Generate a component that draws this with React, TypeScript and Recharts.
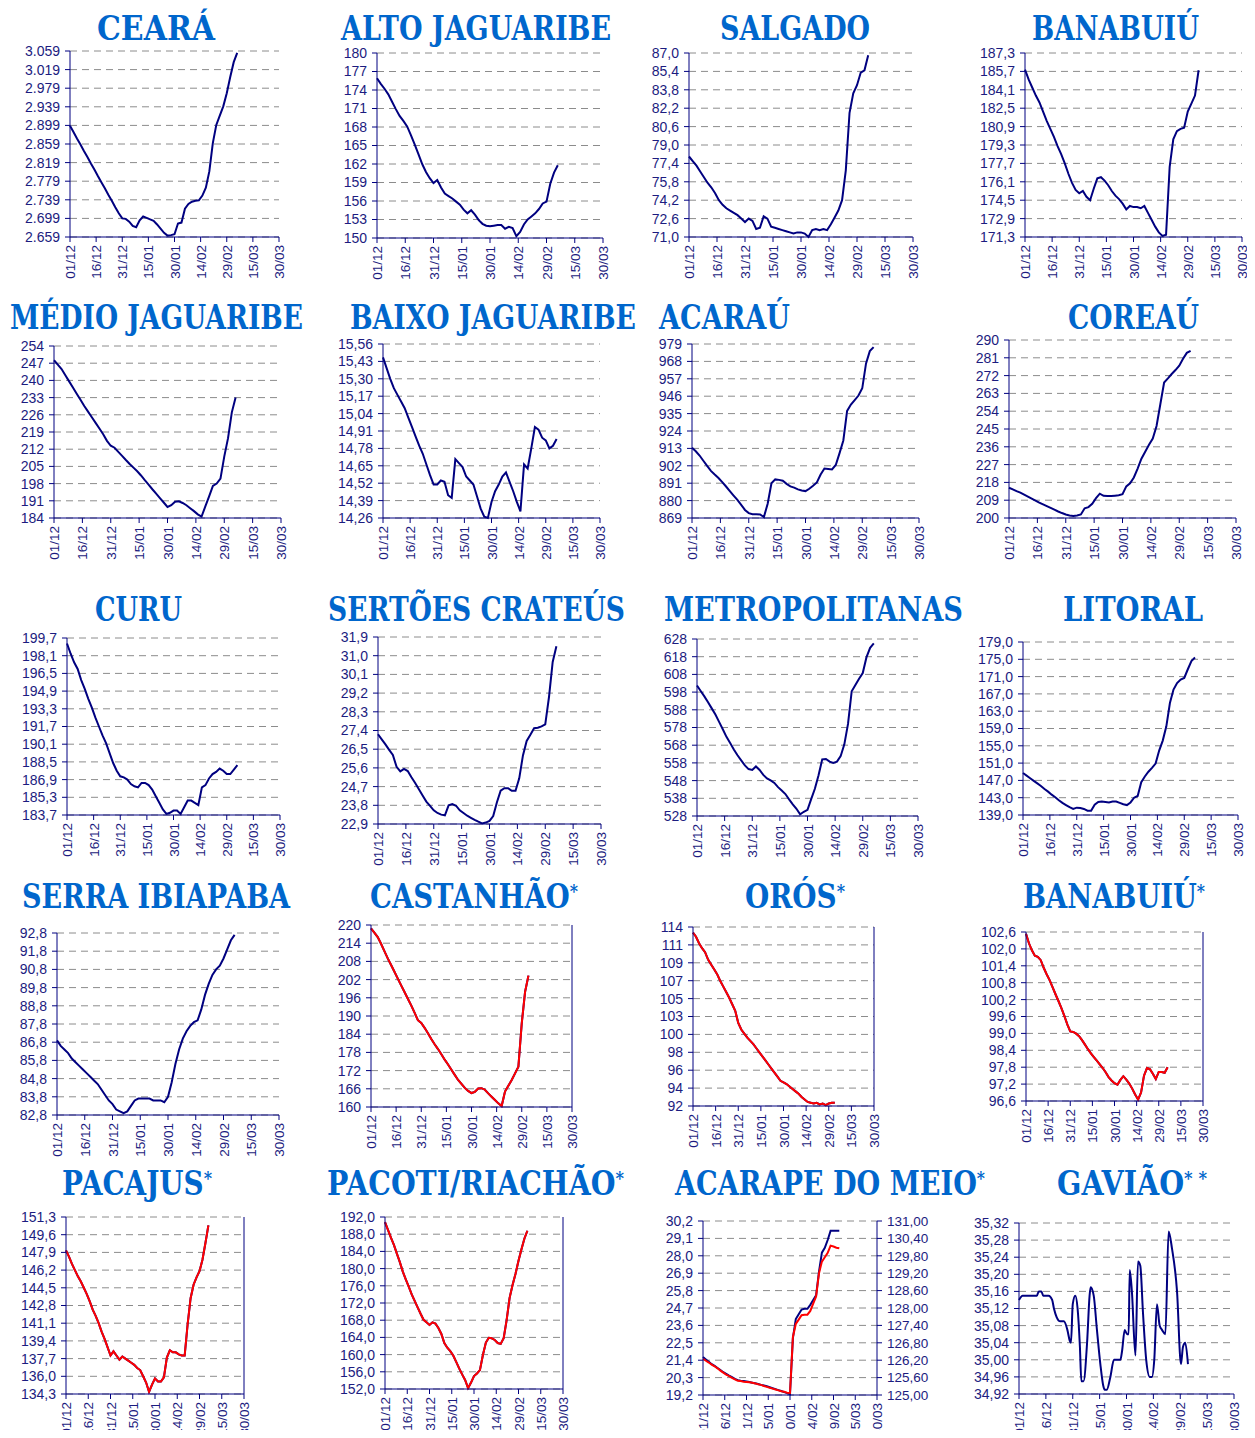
import React from "react";
import { CartesianGrid, Line, LineChart, XAxis, YAxis } from "recharts";

// days since 01/12, one reading every 2 days
const days = [0, 2, 4, 6, 8, 10, 12, 14, 16, 18, 20, 22, 24, 26, 28, 30, 32, 34, 36, 38, 40, 42, 44, 46, 48, 50, 52, 54, 56, 58, 60, 62, 64, 66, 68, 70, 72, 74, 76, 78, 80, 82, 84, 86, 88, 90, 92, 94, 96];
const dateTicks = [0, 15, 30, 45, 60, 75, 90, 105, 120];
const dateLabels = ["01/12", "16/12", "31/12", "15/01", "30/01", "14/02", "29/02", "15/03", "30/03"];

const ceara = [2898, 2885, 2871, 2858, 2844, 2831, 2817, 2804, 2790, 2777, 2764, 2750, 2737, 2723, 2710, 2699, 2698, 2692, 2683, 2680, 2695, 2703, 2700, 2697, 2694, 2686, 2677, 2668, 2662, 2663, 2665, 2688, 2690, 2720, 2730, 2735, 2737, 2738, 2748, 2765, 2800, 2861, 2900, 2920, 2940, 2968, 3003, 3035, 3055];
const alto = [175.9, 175.0, 174.2, 173.3, 172.1, 170.9, 169.8, 169.0, 168.1, 166.7, 165.2, 163.6, 162.0, 160.7, 159.7, 158.9, 159.4, 158.2, 157.2, 156.8, 156.4, 155.9, 155.4, 154.6, 154.0, 154.5, 153.8, 152.9, 152.3, 152.0, 151.9, 152.0, 152.1, 152.1, 151.5, 151.8, 151.6, 150.3, 151.0, 152.2, 153.0, 153.5, 154.0, 154.7, 155.6, 155.9, 158.8, 160.6, 161.8];
const salgado = [78.0, 77.6, 77.2, 76.7, 76.2, 75.7, 75.3, 74.8, 74.2, 73.8, 73.5, 73.3, 73.1, 72.9, 72.6, 72.3, 72.6, 72.4, 71.7, 71.8, 72.8, 72.6, 71.9, 71.8, 71.7, 71.6, 71.5, 71.4, 71.3, 71.4, 71.4, 71.3, 71.0, 71.6, 71.7, 71.6, 71.7, 71.6, 72.1, 72.7, 73.3, 74.2, 76.8, 81.8, 83.5, 84.2, 85.3, 85.5, 86.8];
const banabuiu = [185.85, 185.0, 184.3, 183.6, 183.0, 182.2, 181.4, 180.7, 180.0, 179.2, 178.5, 177.7, 176.8, 176.0, 175.4, 175.1, 175.3, 174.8, 174.5, 175.5, 176.4, 176.5, 176.2, 175.8, 175.3, 174.9, 174.6, 174.2, 173.7, 174.0, 173.9, 173.9, 173.8, 174.0, 173.4, 172.8, 172.2, 171.7, 171.4, 171.5, 177.4, 179.8, 180.5, 180.7, 180.8, 182.2, 182.9, 183.6, 185.8];
const medio = [248.2, 246.4, 244.6, 242.1, 239.6, 237.1, 234.6, 232.1, 229.6, 227.3, 225.0, 222.7, 220.4, 218.1, 215.4, 213.4, 212.6, 210.9, 209.3, 207.6, 206.0, 204.5, 203.0, 201.3, 199.4, 197.6, 195.7, 193.9, 192.1, 190.3, 188.5, 189.2, 190.6, 190.8, 190.1, 189.2, 188.0, 186.8, 185.5, 184.6, 188.7, 192.8, 197.1, 198.0, 200.0, 209.0, 216.5, 227.0, 233.0];
const baixo = [15.46, 15.38, 15.30, 15.23, 15.18, 15.13, 15.08, 15.01, 14.94, 14.87, 14.80, 14.74, 14.66, 14.58, 14.51, 14.51, 14.54, 14.53, 14.43, 14.41, 14.70, 14.67, 14.64, 14.57, 14.54, 14.51, 14.42, 14.33, 14.27, 14.26, 14.38, 14.46, 14.51, 14.57, 14.60, 14.53, 14.46, 14.38, 14.31, 14.66, 14.63, 14.78, 14.94, 14.92, 14.86, 14.84, 14.78, 14.80, 14.85];
const acarau = [913.4, 911.2, 908.5, 905.2, 901.9, 898.8, 896.5, 894.3, 891.7, 888.9, 886.0, 883.2, 880.4, 877.3, 874.1, 872.1, 871.4, 871.3, 871.2, 869.6, 878.0, 891.0, 893.4, 893.1, 892.6, 890.6, 889.0, 888.2, 887.1, 886.4, 886.0, 887.5, 889.4, 891.5, 896.5, 900.3, 900.0, 899.7, 902.5, 910.0, 918.0, 936.7, 940.7, 943.5, 946.4, 951.0, 966.7, 974.5, 977.0];
const coreau = [215.3, 214.5, 213.6, 212.8, 211.8, 210.8, 209.8, 208.8, 207.8, 206.9, 206.0, 205.1, 204.2, 203.3, 202.5, 201.8, 201.3, 201.0, 201.3, 201.8, 204.9, 205.5, 207.2, 210.0, 212.3, 211.2, 211.1, 211.1, 211.3, 211.5, 212.0, 216.0, 217.5, 220.5, 225.0, 230.0, 233.5, 237.0, 240.2, 246.5, 257.5, 268.5, 270.6, 272.8, 274.8, 277.0, 280.5, 283.5, 284.5];
const curu = [199.2, 198.3, 197.5, 196.9, 195.9, 195.1, 194.2, 193.4, 192.5, 191.7, 190.9, 190.2, 189.3, 188.4, 187.7, 187.2, 187.1, 186.9, 186.5, 186.3, 186.2, 186.6, 186.6, 186.4, 186.0, 185.4, 184.8, 184.2, 183.8, 183.9, 184.1, 184.1, 183.8, 184.4, 185.0, 185.0, 184.8, 184.6, 186.2, 186.4, 187.0, 187.4, 187.6, 187.9, 187.7, 187.4, 187.4, 187.8, 188.2];
const sertoes = [27.22, 26.97, 26.73, 26.47, 26.22, 25.65, 25.43, 25.55, 25.45, 25.15, 24.87, 24.57, 24.27, 23.98, 23.77, 23.56, 23.43, 23.35, 23.32, 23.80, 23.86, 23.78, 23.56, 23.43, 23.30, 23.20, 23.10, 23.01, 22.93, 22.97, 23.05, 23.28, 23.95, 24.50, 24.62, 24.62, 24.50, 24.50, 25.10, 26.20, 26.90, 27.20, 27.51, 27.53, 27.60, 27.70, 29.00, 30.70, 31.45];
const metro = [601.7, 598.6, 595.6, 592.3, 588.8, 585.3, 581.2, 577.0, 572.7, 569.2, 565.6, 562.3, 559.4, 556.6, 554.5, 554.0, 556.0, 554.0, 551.2, 549.2, 548.1, 546.7, 544.3, 542.4, 540.4, 537.4, 534.6, 532.1, 528.9, 530.4, 531.5, 537.5, 543.4, 551.0, 560.0, 560.2, 558.7, 558.0, 558.7, 561.8, 568.5, 580.0, 598.5, 602.0, 605.5, 608.8, 617.6, 623.0, 625.5];
const litoral = [148.7, 148.1, 147.5, 146.9, 146.3, 145.7, 145.0, 144.4, 143.7, 143.1, 142.4, 141.8, 141.3, 140.8, 140.4, 140.7, 140.6, 140.4, 140.0, 140.0, 141.4, 142.0, 142.1, 142.0, 141.9, 142.1, 142.1, 141.8, 141.5, 141.3, 141.9, 143.0, 143.4, 146.6, 147.9, 149.0, 149.9, 150.9, 153.9, 156.2, 159.5, 164.9, 168.0, 169.5, 170.3, 170.7, 172.7, 174.6, 175.4];
const serra = [86.9, 86.6, 86.4, 86.2, 85.9, 85.7, 85.5, 85.3, 85.1, 84.9, 84.7, 84.5, 84.2, 83.9, 83.6, 83.4, 83.1, 83.0, 82.9, 83.0, 83.3, 83.6, 83.7, 83.7, 83.7, 83.7, 83.6, 83.6, 83.6, 83.5, 83.8, 84.6, 85.6, 86.4, 87.0, 87.4, 87.7, 87.9, 88.0, 88.6, 89.4, 90.0, 90.5, 90.8, 91.0, 91.4, 91.9, 92.4, 92.7];
const castanhao = [218.9, 217.5, 216.0, 213.8, 211.4, 209.0, 206.8, 204.6, 202.3, 200.1, 197.9, 195.7, 193.5, 191.1, 188.6, 187.7, 186.1, 184.3, 182.4, 180.7, 179.1, 177.4, 175.6, 174.0, 172.3, 170.6, 168.9, 167.6, 166.3, 165.3, 164.6, 165.0, 166.1, 166.2, 165.7, 164.5, 163.4, 162.3, 161.2, 160.3, 165.1, 167.0, 168.9, 171.1, 173.3, 187.6, 198.0, 203.3, null];
const oros = [113.3, 112.8, 112.0, 111.4, 110.9, 110.0, 109.4, 108.8, 108.2, 107.4, 106.7, 106.0, 105.3, 104.5, 103.7, 102.2, 101.4, 100.9, 100.4, 100.0, 99.6, 99.1, 98.6, 98.1, 97.6, 97.1, 96.6, 96.1, 95.6, 95.1, 94.9, 94.7, 94.4, 94.1, 93.8, 93.5, 93.1, 92.8, 92.5, 92.4, 92.3, 92.4, 92.2, 92.3, 92.1, 92.3, 92.4, 92.4, null];
const banabuiu2 = [102.54, 102.2, 101.95, 101.76, 101.72, 101.6, 101.33, 101.1, 100.89, 100.64, 100.39, 100.15, 99.9, 99.62, 99.32, 99.07, 99.05, 98.99, 98.9, 98.76, 98.6, 98.44, 98.29, 98.16, 98.03, 97.9, 97.77, 97.62, 97.45, 97.33, 97.23, 97.18, 97.35, 97.48, 97.36, 97.22, 97.04, 96.83, 96.65, 96.9, 97.5, 97.77, 97.73, 97.57, 97.38, 97.63, 97.63, 97.6, 97.8];
const pacajus = [148.1, 147.5, 146.8, 146.2, 145.6, 145.1, 144.5, 143.9, 143.2, 142.4, 141.8, 141.1, 140.3, 139.6, 138.8, 138.0, 138.4, 138.0, 137.6, 137.9, 137.7, 137.5, 137.3, 137.1, 136.8, 136.6, 136.0, 135.4, 134.5, 135.2, 135.8, 135.5, 135.5, 135.9, 137.8, 138.5, 138.3, 138.3, 138.1, 138.0, 138.0, 141.0, 143.5, 144.8, 145.5, 146.1, 147.2, 148.8, 150.5];
const pacoti = [190.8, 189.0, 187.2, 185.5, 183.5, 181.5, 179.3, 177.5, 175.8, 174.0, 172.5, 171.0, 169.5, 168.1, 167.5, 166.9, 167.5, 167.2, 166.2, 164.8, 162.7, 161.6, 160.8, 159.8, 158.3, 156.8, 155.4, 154.1, 152.2, 153.5, 155.0, 155.6, 156.4, 159.9, 162.8, 163.9, 163.8, 163.4, 162.7, 162.5, 163.8, 168.0, 173.2, 176.2, 178.8, 181.8, 184.5, 187.0, 188.8];
const acarapeVol = [21.6, 21.45, 21.3, 21.15, 21.04, 20.91, 20.78, 20.64, 20.54, 20.43, 20.33, 20.22, 20.14, 20.1, 20.08, 20.06, 20.02, 19.98, 19.94, 19.9, 19.84, 19.8, 19.75, 19.69, 19.63, 19.57, 19.51, 19.45, 19.38, 19.32, 19.26, 22.8, 24.0, 24.3, 24.6, 24.65, 24.65, 24.9, 25.2, 25.5, 27.0, 28.2, 28.5, 29.0, 29.59, 29.59, 29.59, 29.59, null];
const acarapeCota = [126.25, 126.18, 126.12, 126.05, 125.99, 125.92, 125.84, 125.77, 125.7, 125.65, 125.59, 125.54, 125.49, 125.48, 125.46, 125.45, 125.44, 125.42, 125.4, 125.37, 125.35, 125.31, 125.28, 125.25, 125.22, 125.19, 125.16, 125.13, 125.11, 125.08, 125.07, 127.0, 127.45, 127.6, 127.75, 127.77, 127.77, 127.9, 128.15, 128.4, 129.2, 129.6, 129.75, 129.9, 130.15, 130.12, 130.08, 130.06, null];
// Gavião oscillates fast: readings taken at its turning points
const gaviaoDays = [0, 2, 10, 11, 12.5, 13.5, 16.5, 18.5, 19.5, 21, 23, 25, 27, 28.3, 29, 30, 31.4, 32.7, 34, 34.8, 36, 38, 39.4, 40, 41.7, 43.5, 45.4, 47, 47.8, 49, 51, 53, 56.6, 57.5, 59, 60.3, 61.2, 61.8, 63, 65, 66.4, 67.7, 69.2, 71, 73, 74.2, 75.5, 77, 78.5, 79.8, 81.7, 83.5, 85.4, 88.2, 90.4, 91.5, 92.8, 94.3];
const gaviao = [35.14, 35.15, 35.15, 35.16, 35.16, 35.15, 35.15, 35.14, 35.12, 35.1, 35.09, 35.09, 35.07, 35.045, 35.04, 35.13, 35.15, 35.12, 35.03, 34.95, 34.95, 35.04, 35.15, 35.17, 35.15, 35.07, 34.99, 34.94, 34.93, 34.93, 34.96, 35.0, 35.0, 35.02, 35.07, 35.06, 35.06, 35.21, 35.16, 35.01, 35.23, 35.22, 35.11, 35.0, 34.96, 34.96, 35.0, 35.13, 35.08, 35.07, 35.06, 35.3, 35.26, 35.16, 34.99, 35.03, 35.04, 34.99];

// axis labels, bottom to top
const cearaY = ["2.659", "2.699", "2.739", "2.779", "2.819", "2.859", "2.899", "2.939", "2.979", "3.019", "3.059"];
const altoY = ["150", "153", "156", "159", "162", "165", "168", "171", "174", "177", "180"];
const salgadoY = ["71,0", "72,6", "74,2", "75,8", "77,4", "79,0", "80,6", "82,2", "83,8", "85,4", "87,0"];
const banabuiuY = ["171,3", "172,9", "174,5", "176,1", "177,7", "179,3", "180,9", "182,5", "184,1", "185,7", "187,3"];
const medioY = ["184", "191", "198", "205", "212", "219", "226", "233", "240", "247", "254"];
const baixoY = ["14,26", "14,39", "14,52", "14,65", "14,78", "14,91", "15,04", "15,17", "15,30", "15,43", "15,56"];
const acarauY = ["869", "880", "891", "902", "913", "924", "935", "946", "957", "968", "979"];
const coreauY = ["200", "209", "218", "227", "236", "245", "254", "263", "272", "281", "290"];
const curuY = ["183,7", "185,3", "186,9", "188,5", "190,1", "191,7", "193,3", "194,9", "196,5", "198,1", "199,7"];
const sertoesY = ["22,9", "23,8", "24,7", "25,6", "26,5", "27,4", "28,3", "29,2", "30,1", "31,0", "31,9"];
const metroY = ["528", "538", "548", "558", "568", "578", "588", "598", "608", "618", "628"];
const litoralY = ["139,0", "143,0", "147,0", "151,0", "155,0", "159,0", "163,0", "167,0", "171,0", "175,0", "179,0"];
const serraY = ["82,8", "83,8", "84,8", "85,8", "86,8", "87,8", "88,8", "89,8", "90,8", "91,8", "92,8"];
const castanhaoY = ["160", "166", "172", "178", "184", "190", "196", "202", "208", "214", "220"];
const castanhaoR = ["66,5", "66,7", "66,9", "67,1", "67,3", "67,5", "67,7", "67,9", "68,1", "68,3", "68,5"];
const orosY = ["92", "94", "96", "98", "100", "103", "105", "107", "109", "111", "114"];
const orosR = ["178,90", "179,02", "179,14", "179,26", "179,38", "179,50", "179,62", "179,74", "179,86", "179,98", "180,10"];
const banabuiu2Y = ["96,6", "97,2", "97,8", "98,4", "99,0", "99,6", "100,2", "100,8", "101,4", "102,0", "102,6"];
const banabuiu2R = ["111,4", "111,5", "111,5", "111,6", "111,6", "111,6", "111,7", "111,7", "111,8", "111,8", "111,9"];
const pacajusY = ["134,3", "136,0", "137,7", "139,4", "141,1", "142,8", "144,5", "146,2", "147,9", "149,6", "151,3"];
const pacajusR = ["34,88", "34,94", "35,00", "35,06", "35,12", "35,18", "35,24", "35,30", "35,36", "35,42", "35,48"];
const pacotiY = ["152,0", "156,0", "160,0", "164,0", "168,0", "172,0", "176,0", "180,0", "184,0", "188,0", "192,0"];
const pacotiR = ["38,17", "38,31", "38,45", "38,59", "38,73", "38,87", "39,01", "39,15", "39,29", "39,43", "39,57"];
const acarapeY = ["19,2", "20,3", "21,4", "22,5", "23,6", "24,7", "25,8", "26,9", "28,0", "29,1", "30,2"];
const acarapeR = ["125,00", "125,60", "126,20", "126,80", "127,40", "128,00", "128,60", "129,20", "129,80", "130,40", "131,00"];
const gaviaoY = ["34,92", "34,96", "35,00", "35,04", "35,08", "35,12", "35,16", "35,20", "35,24", "35,28", "35,32"];

const NAVY = "#000080";
const LABEL = "#1c1c80";
const GRID = "#8c8c8c";
const TITLE = "#0066cc";
const FONT = '"Liberation Sans", Arial, sans-serif';

const ticksOf = (dom: number[], n: number) =>
  Array.from({ length: n }, (_, i) => (i === n - 1 ? dom[1] : dom[0] + (i * (dom[1] - dom[0])) / (n - 1)));
const labelAt = (dom: number[], labels: string[]) => (v: number) =>
  labels[Math.round(((v - dom[0]) / (dom[1] - dom[0])) * (labels.length - 1))] ?? "";

const DateTick = (p: any) => (
  <text
    transform={`translate(${p.x + 5},${p.y}) rotate(-90)`}
    textAnchor="end"
    fontSize={13.5}
    fontFamily={FONT}
    fill={LABEL}
  >
    {dateLabels[Math.round(p.payload.value / 15)]}
  </text>
);

type PanelDef = {
  box: number[]; // plot area left, top, right, bottom
  x?: number[];
  values: (number | null)[];
  red?: (number | null)[];
  yDom: number[];
  yLab: string[];
  rDom?: number[];
  rLab?: string[];
  curve?: "linear" | "monotone";
};

function Panel(p: PanelDef) {
  const [L, T, R, B] = p.box;
  const yw = 60;
  const mt = 10;
  const xh = 52;
  const dual = !!p.rLab;
  const rw = dual ? 62 : 0;
  const mr = dual ? 0 : 14;
  const width = yw + (R - L) + rw + mr;
  const height = mt + (B - T) + xh;
  const xs = p.x ?? days;
  const rows = xs.map((d, i) => ({ day: d, v: p.values[i], r: p.red ? p.red[i] : null }));
  const tickStyle = { fill: LABEL, fontSize: 14, fontFamily: FONT };
  return (
    <div style={{ position: "absolute", left: L - yw, top: T - mt }}>
      <LineChart width={width} height={height} data={rows} margin={{ top: mt, right: mr, bottom: 0, left: 0 }}>
        <CartesianGrid vertical={false} stroke={GRID} strokeDasharray="7 5" />
        <XAxis
          dataKey="day"
          type="number"
          domain={[0, 120]}
          ticks={dateTicks}
          interval={0}
          height={xh}
          tickSize={5}
          tickMargin={3}
          axisLine={{ stroke: NAVY }}
          tickLine={{ stroke: NAVY }}
          tick={(tp: any) => <DateTick {...tp} />}
        />
        <YAxis
          type="number"
          width={yw}
          domain={p.yDom}
          ticks={ticksOf(p.yDom, p.yLab.length)}
          interval={0}
          tickSize={5}
          tickMargin={5}
          axisLine={{ stroke: NAVY }}
          tickLine={{ stroke: NAVY }}
          tick={tickStyle}
          tickFormatter={labelAt(p.yDom, p.yLab)}
        />
        {dual && p.rDom && p.rLab && (
          <YAxis
            yAxisId="r"
            orientation="right"
            type="number"
            width={rw}
            domain={p.rDom}
            ticks={ticksOf(p.rDom, p.rLab.length)}
            interval={0}
            tickSize={5}
            tickMargin={5}
            axisLine={{ stroke: NAVY }}
            tickLine={{ stroke: NAVY }}
            tick={{ ...tickStyle, fontSize: 13.5 }}
            tickFormatter={labelAt(p.rDom, p.rLab)}
          />
        )}
        <Line
          type={p.curve ?? "linear"}
          dataKey="v"
          stroke={NAVY}
          strokeWidth={2}
          dot={false}
          activeDot={false}
          isAnimationActive={false}
        />
        {dual && (
          <Line
            type="linear"
            dataKey={p.red ? "r" : "v"}
            yAxisId={p.red ? "r" : undefined}
            stroke="#ff0000"
            strokeWidth={2}
            dot={false}
            activeDot={false}
            isAnimationActive={false}
          />
        )}
      </LineChart>
    </div>
  );
}

const panels: PanelDef[] = [
  { box: [70, 51, 279, 237], values: ceara, yDom: [2659, 3059], yLab: cearaY },
  { box: [377, 53, 603, 238], values: alto, yDom: [150, 180], yLab: altoY },
  { box: [689, 53, 913, 237], values: salgado, yDom: [71, 87], yLab: salgadoY },
  { box: [1025, 53, 1242, 237], values: banabuiu, yDom: [171.3, 187.3], yLab: banabuiuY },
  { box: [54, 346, 281, 518], values: medio, yDom: [184, 254], yLab: medioY },
  { box: [383, 344, 600, 518], values: baixo, yDom: [14.26, 15.56], yLab: baixoY },
  { box: [692, 344, 919, 518], values: acarau, yDom: [869, 979], yLab: acarauY },
  { box: [1009, 340, 1236, 518], values: coreau, yDom: [200, 290], yLab: coreauY },
  { box: [67, 638, 280, 815], values: curu, yDom: [183.7, 199.7], yLab: curuY },
  { box: [378, 637, 601, 824], values: sertoes, yDom: [22.9, 31.9], yLab: sertoesY },
  { box: [697, 639, 918, 816], values: metro, yDom: [528, 628], yLab: metroY },
  { box: [1023, 642, 1238, 815], values: litoral, yDom: [139, 179], yLab: litoralY },
  { box: [57, 933, 279, 1115], values: serra, yDom: [82.8, 92.8], yLab: serraY },
  { box: [371, 925, 572, 1107], values: castanhao, yDom: [160, 220], yLab: castanhaoY, rDom: [66.5, 68.5], rLab: castanhaoR },
  { box: [693, 927, 874, 1106], values: oros, yDom: [92, 114], yLab: orosY, rDom: [178.9, 180.1], rLab: orosR },
  { box: [1026, 932, 1203, 1101], values: banabuiu2, yDom: [96.6, 102.6], yLab: banabuiu2Y, rDom: [111.4, 111.9], rLab: banabuiu2R },
  { box: [66, 1217, 244, 1394], values: pacajus, yDom: [134.3, 151.3], yLab: pacajusY, rDom: [34.88, 35.48], rLab: pacajusR },
  { box: [385, 1217, 563, 1389], values: pacoti, yDom: [152, 192], yLab: pacotiY, rDom: [38.17, 39.57], rLab: pacotiR },
  { box: [703, 1221, 877, 1395], values: acarapeVol, red: acarapeCota, yDom: [19.2, 30.2], yLab: acarapeY, rDom: [125, 131], rLab: acarapeR },
  { box: [1019, 1223, 1234, 1394], x: gaviaoDays, values: gaviao, yDom: [34.92, 35.32], yLab: gaviaoY, curve: "monotone" },
];

const titles = [
  { t: "CEARÁ", s: "", x1: 97, x2: 215, y: 40 },
  { t: "ALTO JAGUARIBE", s: "", x1: 341, x2: 611, y: 40 },
  { t: "SALGADO", s: "", x1: 720, x2: 870, y: 40 },
  { t: "BANABUIÚ", s: "", x1: 1032, x2: 1199, y: 40 },
  { t: "MÉDIO JAGUARIBE", s: "", x1: 10, x2: 303, y: 329 },
  { t: "BAIXO JAGUARIBE", s: "", x1: 350, x2: 636, y: 329 },
  { t: "ACARAÚ", s: "", x1: 659, x2: 790, y: 329 },
  { t: "COREAÚ", s: "", x1: 1068, x2: 1199, y: 329 },
  { t: "CURU", s: "", x1: 95, x2: 182, y: 621 },
  { t: "SERTÕES CRATEÚS", s: "", x1: 328, x2: 625, y: 621 },
  { t: "METROPOLITANAS", s: "", x1: 664, x2: 963, y: 621 },
  { t: "LITORAL", s: "", x1: 1063, x2: 1203, y: 621 },
  { t: "SERRA IBIAPABA", s: "", x1: 22, x2: 290, y: 908 },
  { t: "CASTANHÃO", s: "*", x1: 370, x2: 578, y: 908 },
  { t: "ORÓS", s: "*", x1: 745, x2: 845, y: 908 },
  { t: "BANABUIÚ", s: "*", x1: 1023, x2: 1205, y: 908 },
  { t: "PACAJUS", s: "*", x1: 62, x2: 212, y: 1195 },
  { t: "PACOTI/RIACHÃO", s: "*", x1: 327, x2: 624, y: 1195 },
  { t: "ACARAPE DO MEIO", s: "*", x1: 675, x2: 985, y: 1195 },
  { t: "GAVIÃO", s: "* *", x1: 1057, x2: 1207, y: 1195 },
];

export default function App() {
  return (
    <div style={{ position: "relative", width: 1255, height: 1438, margin: -8, overflow: "hidden", background: "#fff" }}>
      {panels.map((p, i) => (
        <Panel key={i} {...p} />
      ))}
      <svg width={1255} height={1438} style={{ position: "absolute", left: 0, top: 0, pointerEvents: "none" }}>
        {titles.map((t, i) => (
          <text
            key={i}
            x={t.x1}
            y={t.y}
            textLength={t.x2 - t.x1}
            lengthAdjust="spacingAndGlyphs"
            fontFamily='"DejaVu Serif", serif'
            fontWeight="bold"
            fontSize={33}
            fill={TITLE}
          >
            {t.t}
            {t.s && (
              <tspan fontSize={19} dy={-10}>
                {t.s}
              </tspan>
            )}
          </text>
        ))}
      </svg>
    </div>
  );
}
